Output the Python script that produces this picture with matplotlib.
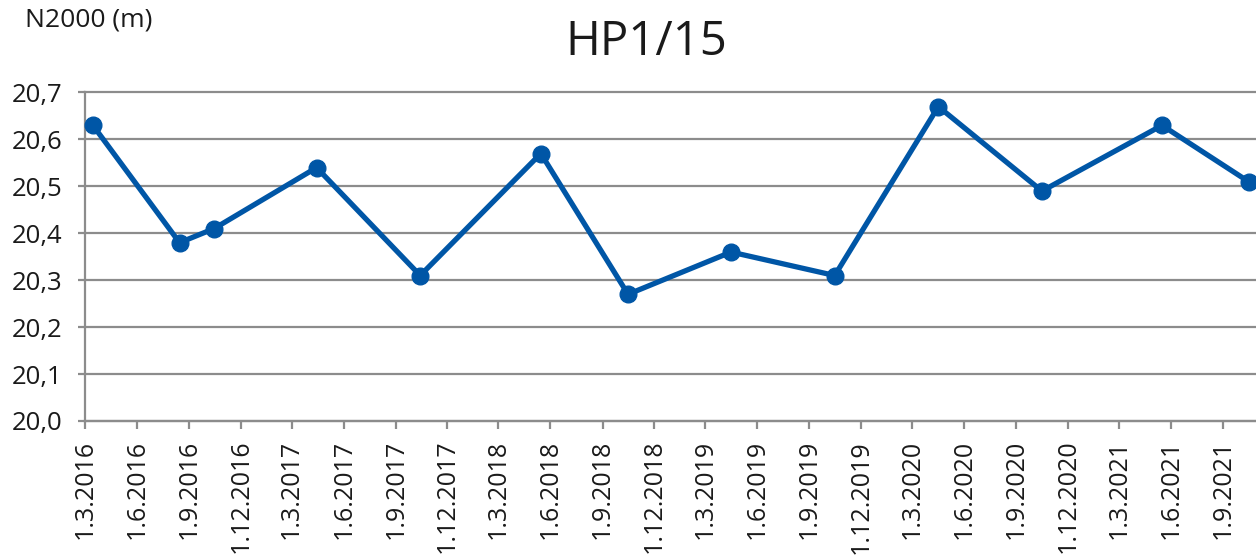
import matplotlib
matplotlib.use("Agg")
import matplotlib.pyplot as plt
import datetime as dt

# Data
dates = [
    "2016-03-15", "2016-08-15", "2016-10-15", "2017-04-14", "2017-10-14",
    "2018-05-15", "2018-10-16", "2019-04-16", "2019-10-16", "2020-04-16",
    "2020-10-16", "2021-05-16", "2021-10-16",
]
levels = [20.63, 20.38, 20.41, 20.54, 20.31, 20.57, 20.27, 20.36, 20.31,
          20.67, 20.49, 20.63, 20.51]
tick_dates = [
    "2016-03-01", "2016-06-01", "2016-09-01", "2016-12-01",
    "2017-03-01", "2017-06-01", "2017-09-01", "2017-12-01",
    "2018-03-01", "2018-06-01", "2018-09-01", "2018-12-01",
    "2019-03-01", "2019-06-01", "2019-09-01", "2019-12-01",
    "2020-03-01", "2020-06-01", "2020-09-01", "2020-12-01",
    "2021-03-01", "2021-06-01", "2021-09-01",
]
y_ticks = [20.0, 20.1, 20.2, 20.3, 20.4, 20.5, 20.6, 20.7]
title = "HP1/15"
y_label = "N2000 (m)"

plt.rcParams['font.family'] = ['Open Sans', 'DejaVu Sans']

W, H = 1256, 558
fig = plt.figure(figsize=(W / 100, H / 100), dpi=100)
left, right, bottom, top = 85, 1256, 421, 92.5
ax = fig.add_axes([left / W, 1 - bottom / H, (right - left) / W, (bottom - top) / H])

x = [dt.datetime.strptime(d, "%Y-%m-%d") for d in dates]
xt = [dt.datetime.strptime(d, "%Y-%m-%d") for d in tick_dates]

color = '#0056A6'
grid_c = '#8C8C8C'
ax.plot(x, levels, color=color, lw=3.8, marker='o', ms=12, zorder=3, clip_on=False)

ax.set_ylim(20.0, 20.7)
ax.set_xlim(xt[0], dt.datetime(2021, 10, 29))
ax.set_yticks(y_ticks)
ax.set_yticklabels([f"{v:.1f}".replace('.', ',') for v in y_ticks])
ax.set_xticks(xt)
ax.set_xticklabels([f"{d.day}.{d.month}.{d.year}" for d in xt], rotation=90)

ax.grid(axis='y', color=grid_c, lw=1.6)
for gl in ax.get_ygridlines():
    gl.set_clip_on(False)
ax.set_axisbelow(True)
for s in ['top', 'right']:
    ax.spines[s].set_visible(False)
for s in ['left', 'bottom']:
    ax.spines[s].set_color(grid_c)
    ax.spines[s].set_linewidth(1.6)
ax.tick_params(axis='y', length=5, width=1.6, color=grid_c, pad=11, labelsize=18.5, labelcolor='#1a1a1a')
ax.tick_params(axis='x', length=6, width=1.6, color=grid_c, pad=7.5, labelsize=18, labelcolor='#1a1a1a')

fig.text(646 / W, 1 - 42 / H, title, ha='center', va='center', fontsize=34, color='#1a1a1a')
fig.text(25 / W, 1 - 20 / H, y_label, ha='left', va='center', fontsize=19, color='#1a1a1a')

fig.savefig("out.png", dpi=100)
